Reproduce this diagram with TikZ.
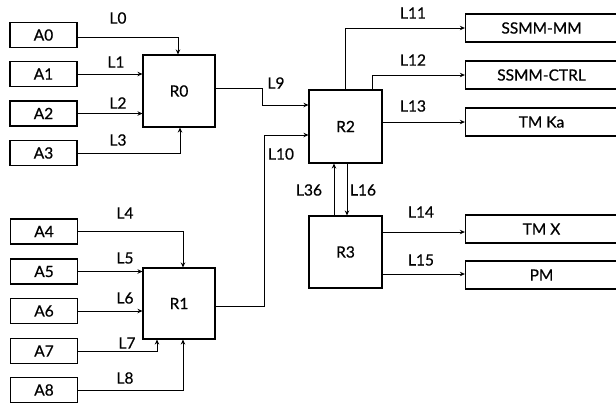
\documentclass[tikz,border=0pt]{standalone}
\usepackage{fontspec}
\setmainfont{Lato}
\newfontfamily\gfont{Lato}[FakeBold=0.6]
\usetikzlibrary{arrows.meta}
\begin{document}
\begin{tikzpicture}[x=1pt,y=-1pt,
  txt/.style={font=\gfont\fontsize{15.5}{17}\selectfont},
  abox/.style={txt, draw, line width=1.3pt, minimum width=67pt, minimum height=25pt, inner sep=0pt},
  rbox/.style={txt, draw, line width=1.1pt, minimum width=72pt, minimum height=72pt, inner sep=0pt},
  obox/.style={txt, draw, line width=1.3pt, minimum width=152pt, minimum height=28pt, inner sep=0pt},
  lbl/.style={txt, inner sep=0pt},
  conn/.style={line width=0.9pt, -{Stealth[length=5pt,width=4.5pt]}}]
\useasboundingbox (0,0) rectangle (616,405);
% inputs
\node[abox] (A0) at (43.5,35) {A0};
\node[abox] (A1) at (43.5,74) {A1};
\node[abox] (A2) at (43.5,113.5) {A2};
\node[abox] (A3) at (43.5,153) {A3};
\node[abox] (A4) at (44,231.5) {A4};
\node[abox] (A5) at (44,271.5) {A5};
\node[abox] (A6) at (44,311) {A6};
\node[abox] (A7) at (44,351) {A7};
\node[abox] (A8) at (44,390) {A8};
% routers
\node[rbox] (R0) at (179,91) {R0};
\node[rbox, minimum height=71pt] (R1) at (179,303.5) {R1};
\node[rbox, minimum width=73pt, minimum height=73pt] (R2) at (345.5,126.5) {R2};
\node[rbox, minimum width=73pt] (R3) at (345.5,252) {R3};
% outputs
\node[obox] (S1) at (541.5,28) {SSMM-MM};
\node[obox] (S2) at (541.5,75) {SSMM-CTRL};
\node[obox] (S3) at (541.5,122) {TM Ka};
\node[obox] (S4) at (541.5,229) {TM X};
\node[obox] (S5) at (541.5,275) {PM};
% connectors R0
\draw[conn] ([yshift=-2pt]A0.east) -| ([xshift=-1pt]R0.north);
\draw[conn] (A1.east) -- (A1.east -| R0.west);
\draw[conn] (A2.east) -- (A2.east -| R0.west);
\draw[conn] (A3.east) -| ([xshift=1pt]R0.south);
% connectors R1
\draw[conn] (A4.east) -| ([xshift=4pt]R1.north);
\draw[conn] (A5.east) -- (A5.east -| R1.west);
\draw[conn] (A6.east) -- (A6.east -| R1.west);
\draw[conn] (A7.east) -| ([xshift=-22pt]R1.south);
\draw[conn] (A8.east) -| ([xshift=4pt]R1.south);
% R0/R1 to R2
\coordinate (c9) at (262,88);
\coordinate (c10) at (264,306);
\draw[conn] ([yshift=3pt]R0.east) -- (c9) |- ([yshift=21.5pt]R2.west);
\draw[conn] ([yshift=-2.5pt]R1.east) -- (c10) |- ([yshift=-8.5pt]R2.west);
% R2 outputs
\draw[conn] (R2.north) |- (S1.west);
\draw[conn] ([xshift=26.5pt]R2.north) |- (S2.west);
\draw[conn] (S3.west -| R2.east) -- (S3.west);
% R2 <-> R3
\draw[conn] ([xshift=-11.5pt]R3.north) -- ([xshift=-11.5pt]R2.south);
\draw[conn] ([xshift=1.5pt]R2.south) -- ([xshift=1.5pt]R3.north);
% R3 outputs
\draw[conn] ([yshift=-3pt]S4.west -| R3.east) -- ([yshift=-3pt]S4.west);
\draw[conn] ([yshift=1pt]S5.west -| R3.east) -- ([yshift=1pt]S5.west);
% labels
\node[lbl] (l0) at (118,18) {L0};
\node[lbl] (l1) at (116,62) {L1};
\node[lbl] (l2) at (118,103) {L2};
\node[lbl] (l3) at (118,140) {L3};
\node[lbl] (l4) at (125,213) {L4};
\node[lbl] (l5) at (125,258) {L5};
\node[lbl] (l6) at (125,298) {L6};
\node[lbl] (l7) at (127,343) {L7};
\node[lbl] (l8) at (125,378) {L8};
\node[lbl] (l9) at (276,83) {L9};
\node[lbl] (l10) at (281,154) {L10};
\node[lbl] (l11) at (413,13) {L11};
\node[lbl] (l12) at (413,60) {L12};
\node[lbl] (l13) at (413,106) {L13};
\node[lbl] (l14) at (421,212) {L14};
\node[lbl] (l15) at (421,260) {L15};
\node[lbl] (l36) at (309,190) {L36};
\node[lbl] (l16) at (363,190) {L16};
\end{tikzpicture}
\end{document}
